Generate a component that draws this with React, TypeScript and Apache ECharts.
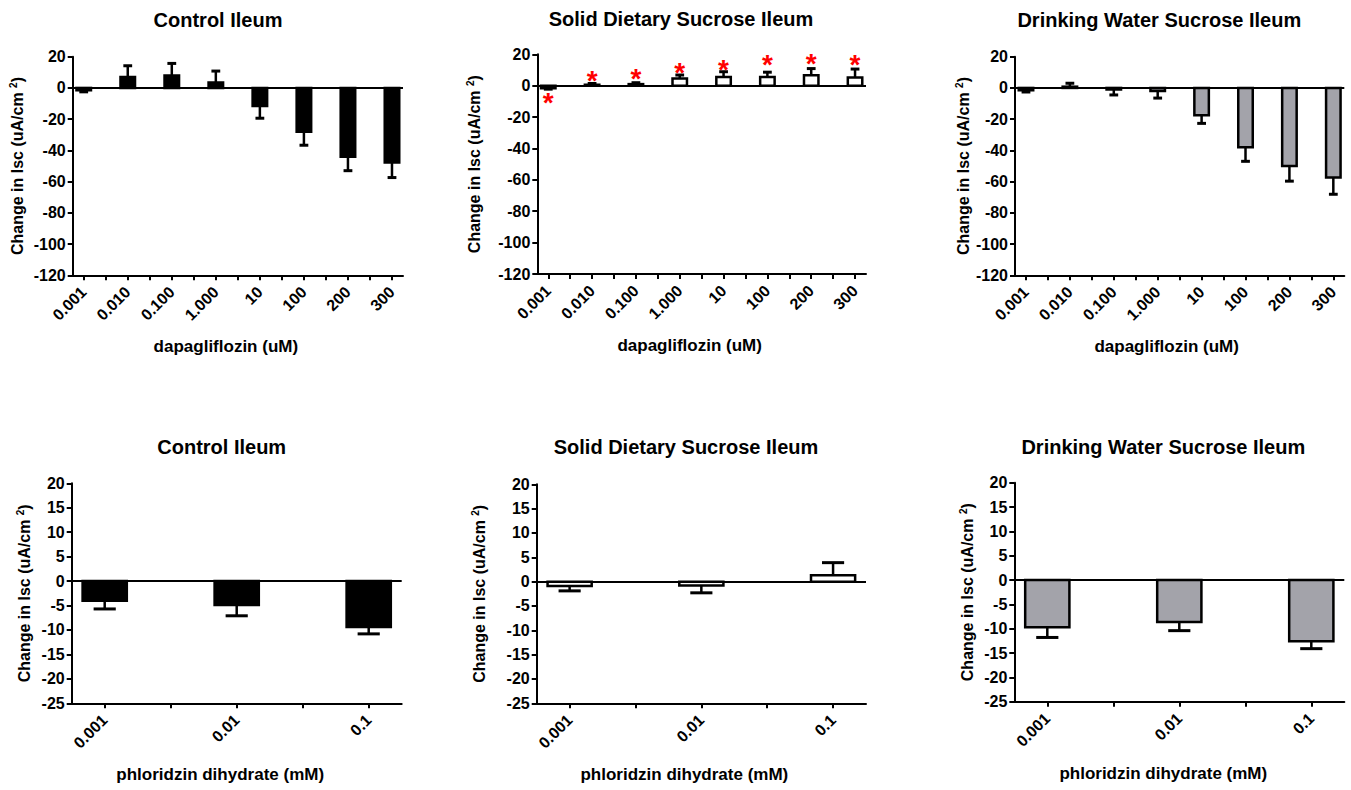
import React, { useEffect, useRef } from "react";
import * as echarts from "echarts";

const FONT = '"Liberation Sans", Arial, Helvetica, sans-serif';

// ---- categories / tick labels ----
const dapaDoses = ["0.001", "0.010", "0.100", "1.000", "10", "100", "200", "300"];
const phloDoses = ["0.001", "0.01", "0.1"];

// ---- titles ----
const panelTitles = [
  "Control Ileum",
  "Solid Dietary Sucrose Ileum",
  "Drinking Water Sucrose Ileum",
  "Control Ileum",
  "Solid Dietary Sucrose Ileum",
  "Drinking Water Sucrose Ileum",
];

// ---- dapagliflozin (uM) ----
const controlDapaMean = [-1.5, 7.0, 8.0, 3.5, -11.5, -28.0, -44.0, -47.8];
const controlDapaSem = [1.0, 7.2, 7.7, 7.3, 7.9, 8.7, 9.0, 9.6];
const solidDapaMean = [-1.6, 0.6, 1.0, 4.6, 5.6, 5.6, 6.6, 5.2];
const solidDapaSem = [0.6, 0.8, 0.9, 2.2, 3.3, 3.0, 4.3, 5.4];
const solidDapaStar = [-7.1, 7.3, 8.2, 12.0, 14.1, 17.3, 18.0, 17.3];
const waterDapaMean = [-1.5, 0.8, -1.0, -2.0, -17.5, -38.0, -50.0, -57.3];
const waterDapaSem = [1.1, 2.2, 3.5, 4.5, 5.2, 9.0, 9.7, 10.8];

// ---- phloridzin dihydrate (mM) ----
const controlPhloMean = [-4.0, -4.9, -9.4];
const controlPhloSem = [1.7, 2.2, 1.4];
const solidPhloMean = [-0.9, -0.8, 1.3];
const solidPhloSem = [1.0, 1.5, 2.6];
const waterPhloMean = [-9.7, -8.6, -12.6];
const waterPhloSem = [2.1, 1.8, 1.5];

type Panel = {
  title: string;
  titleX: number;
  titleY: number;
  grid: { left: number; top: number; width: number; height: number };
  labels: string[];
  mean: number[];
  sem: number[];
  star?: number[];
  fill: string;
  yMin: number;
  yMax: number;
  yStep: number;
  xName: string;
  xShift: number;
  yNameGap: number;
  barRatio: number;
  capRatio: number;
};

const BLACK = "#000000";
const WHITE = "#ffffff";
const GRAY = "#a3a3aa";

const panels: Panel[] = [
  {
    title: panelTitles[0], titleX: 218, titleY: 19.5,
    grid: { left: 72.7, top: 56.7, width: 330.3, height: 218.6 },
    labels: dapaDoses, mean: controlDapaMean, sem: controlDapaSem, fill: BLACK,
    yMin: -120, yMax: 20, yStep: 20, xName: "dapagliflozin (uM)", xShift: 12, yNameGap: 46,
    barRatio: 0.33, capRatio: 0.2,
  },
  {
    title: panelTitles[1], titleX: 681, titleY: 18.5,
    grid: { left: 537.3, top: 54.3, width: 328.7, height: 219.7 },
    labels: dapaDoses, mean: solidDapaMean, sem: solidDapaSem, star: solidDapaStar, fill: WHITE,
    yMin: -120, yMax: 20, yStep: 20, xName: "dapagliflozin (uM)", xShift: 12, yNameGap: 54,
    barRatio: 0.33, capRatio: 0.2,
  },
  {
    title: panelTitles[2], titleX: 1159.3, titleY: 20,
    grid: { left: 1015, top: 56.7, width: 329.3, height: 218.6 },
    labels: dapaDoses, mean: waterDapaMean, sem: waterDapaSem, fill: GRAY,
    yMin: -120, yMax: 20, yStep: 20, xName: "dapagliflozin (uM)", xShift: 13, yNameGap: 39,
    barRatio: 0.33, capRatio: 0.2,
  },
  {
    title: panelTitles[3], titleX: 221.7, titleY: 446.7,
    grid: { left: 71.7, top: 483.3, width: 330, height: 220 },
    labels: phloDoses, mean: controlPhloMean, sem: controlPhloSem, fill: BLACK,
    yMin: -25, yMax: 20, yStep: 5, xName: "phloridzin dihydrate (mM)", xShift: 16.5, yNameGap: 38,
    barRatio: 0.335, capRatio: 0.168,
  },
  {
    title: panelTitles[4], titleX: 686, titleY: 447,
    grid: { left: 536.7, top: 484.3, width: 329.3, height: 219 },
    labels: phloDoses, mean: solidPhloMean, sem: solidPhloSem, fill: WHITE,
    yMin: -25, yMax: 20, yStep: 5, xName: "phloridzin dihydrate (mM)", xShift: 17, yNameGap: 48,
    barRatio: 0.335, capRatio: 0.168,
  },
  {
    title: panelTitles[5], titleX: 1163.3, titleY: 447,
    grid: { left: 1014.3, top: 482.7, width: 330, height: 219 },
    labels: phloDoses, mean: waterPhloMean, sem: waterPhloSem, fill: GRAY,
    yMin: -25, yMax: 20, yStep: 5, xName: "phloridzin dihydrate (mM)", xShift: 16, yNameGap: 38,
    barRatio: 0.335, capRatio: 0.168,
  },
];

function makeRender(p: Panel) {
  return (params: any, api: any) => {
    const x = api.value(0);
    const v = api.value(1);
    const e = api.value(2);
    const band = api.size([1, 0])[0];
    const w = band * p.barRatio;
    const cw = band * p.capRatio;
    const p0 = api.coord([x, 0]);
    const p1 = api.coord([x, v]);
    const sign = v >= 0 ? 1 : -1;
    const p2 = api.coord([x, v + sign * e]);
    const children: any[] = [
      {
        type: "line",
        shape: { x1: p1[0], y1: p1[1], x2: p2[0], y2: p2[1] },
        style: { stroke: BLACK, lineWidth: 2.5 },
      },
      {
        type: "line",
        shape: { x1: p2[0] - cw / 2, y1: p2[1], x2: p2[0] + cw / 2, y2: p2[1] },
        style: { stroke: BLACK, lineWidth: 3 },
      },
      {
        type: "rect",
        shape: {
          x: p0[0] - w / 2,
          y: Math.min(p0[1], p1[1]),
          width: w,
          height: Math.abs(p1[1] - p0[1]),
        },
        style: { fill: p.fill, stroke: BLACK, lineWidth: 2.5 },
      },
    ];
    if (p.star) {
      const ps = api.coord([x, api.value(3)]);
      children.push({
        type: "text",
        x: ps[0],
        y: ps[1] + 6,
        style: {
          text: "*",
          fill: "#ff0000",
          font: `bold 28px ${FONT}`,
          align: "center",
          verticalAlign: "middle",
        },
      });
    }
    return { type: "group", children };
  };
}

const textBase = { color: BLACK, fontWeight: "bold" as const, fontFamily: FONT };

function buildOption() {
  const grids: any[] = [];
  const xAxes: any[] = [];
  const yAxes: any[] = [];
  const series: any[] = [];
  const titles: any[] = [];

  panels.forEach((p, i) => {
    const n = p.labels.length;
    grids.push({ ...p.grid, containLabel: false });
    titles.push({
      text: p.title,
      left: p.titleX,
      top: p.titleY,
      padding: 0,
      textAlign: "center",
      textVerticalAlign: "middle",
      textStyle: { ...textBase, fontSize: 20 },
    });
    const labelVals = p.labels.map((_, k) => k);
    const tickVals: number[] = [];
    for (let k = 0; k < n; k++) {
      tickVals.push(k);
      if (k < n - 1) tickVals.push(k + 0.5);
    }
    xAxes.push({
      gridIndex: i,
      type: "value",
      min: -0.25,
      max: n - 1 + 0.25,
      splitLine: { show: false },
      axisLine: { show: true, onZero: false, lineStyle: { color: BLACK, width: 2 } },
      axisTick: { show: true, customValues: tickVals, length: 5, lineStyle: { color: BLACK, width: 2 } },
      axisLabel: {
        ...textBase,
        customValues: labelVals,
        formatter: (val: number) => p.labels[Math.round(val)] ?? "",
        rotate: 45,
        margin: 14,
        fontSize: 16,
      },
      name: p.xName,
      nameLocation: "middle",
      nameGap: 63,
      nameTextStyle: { ...textBase, fontSize: 17, padding: [0, p.xShift * 2, 0, 0] },
    });
    yAxes.push({
      gridIndex: i,
      type: "value",
      min: p.yMin,
      max: p.yMax,
      interval: p.yStep,
      splitLine: { show: false },
      axisLine: { show: true, onZero: false, lineStyle: { color: BLACK, width: 2 } },
      axisTick: { show: true, length: 5, lineStyle: { color: BLACK, width: 2 } },
      axisLabel: { ...textBase, fontSize: 16, margin: 7 },
      name: "Change in Isc (uA/cm {sup|2})",
      nameLocation: "middle",
      nameRotate: 90,
      nameGap: p.yNameGap,
      nameTextStyle: {
        ...textBase,
        fontSize: 16,
        lineHeight: 18,
        rich: {
          sup: { ...textBase, fontSize: 10, lineHeight: 18, verticalAlign: "top", padding: [0, 0, 6, 0] },
        },
      },
    });
    const data = p.mean.map((m, k) =>
      p.star ? [k, m, p.sem[k], p.star[k]] : [k, m, p.sem[k]]
    );
    series.push({
      type: "custom",
      xAxisIndex: i,
      yAxisIndex: i,
      renderItem: makeRender(p),
      encode: { x: 0, y: 1 },
      data,
      silent: true,
      markLine: {
        silent: true,
        symbol: ["none", "none"],
        label: { show: false },
        lineStyle: { color: BLACK, width: 2, type: "solid" },
        emphasis: { disabled: true },
        data: [{ yAxis: 0 }],
      },
    });
  });

  return {
    animation: false,
    backgroundColor: "#ffffff",
    title: titles,
    grid: grids,
    xAxis: xAxes,
    yAxis: yAxes,
    series,
  };
}

export default function App() {
  const ref = useRef<HTMLDivElement>(null);
  useEffect(() => {
    if (!ref.current) return;
    const chart = echarts.init(ref.current, null, { renderer: "svg" });
    chart.setOption(buildOption() as any);
    return () => chart.dispose();
  }, []);
  return (
    <div
      ref={ref}
      style={{ position: "absolute", left: 0, top: 0, width: 1351, height: 790, background: "#fff" }}
    />
  );
}
